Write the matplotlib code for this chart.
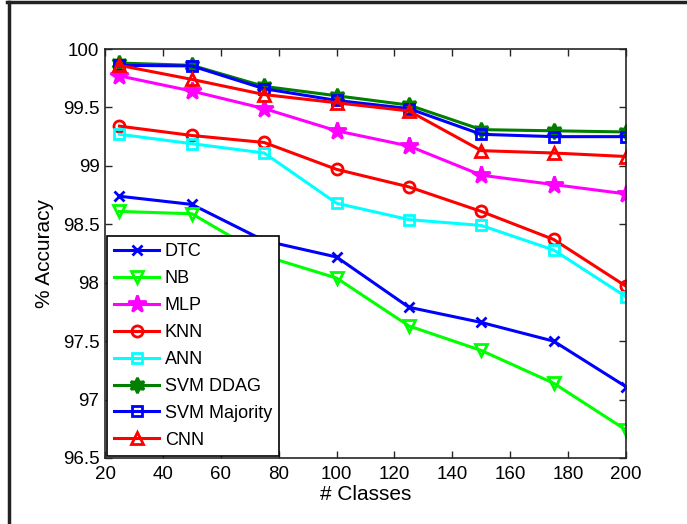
import numpy as np
import matplotlib
matplotlib.use("Agg")
import matplotlib.pyplot as plt
from matplotlib.lines import Line2D

plt.rcParams['font.family'] = ['Liberation Sans', 'DejaVu Sans']

classes = [25, 50, 75, 100, 125, 150, 175, 200]

dtc = [98.74, 98.67, 98.36, 98.22, 97.79, 97.66, 97.50, 97.11]
nb = [98.61, 98.59, 98.23, 98.04, 97.63, 97.42, 97.14, 96.74]
mlp = [99.77, 99.64, 99.49, 99.30, 99.17, 98.92, 98.84, 98.76]
knn = [99.34, 99.26, 99.20, 98.97, 98.82, 98.61, 98.37, 97.97]
ann = [99.27, 99.19, 99.11, 98.68, 98.54, 98.49, 98.28, 97.88]
svm_ddag = [99.88, 99.86, 99.68, 99.60, 99.52, 99.31, 99.30, 99.29]
svm_major = [99.86, 99.855, 99.66, 99.56, 99.49, 99.27, 99.25, 99.25]
cnn = [99.86, 99.74, 99.61, 99.54, 99.47, 99.13, 99.11, 99.08]

series = [
    ("DTC", dtc, "#0000ff", "x", True),
    ("NB", nb, "#00ff00", "v", False),
    ("MLP", mlp, "#ff00ff", "*", True),
    ("KNN", knn, "#ff0000", "o", False),
    ("ANN", ann, "#00ffff", "s", False),
    ("SVM DDAG", svm_ddag, "#007f00", (6, 1, 0), True),
    ("SVM Majority", svm_major, "#0000ff", "s", False),
    ("CNN", cnn, "#ff0000", "^", False),
]

# marker sizes roughly as MATLAB draws them
msize = {"x": 7, "v": 9, "*": 13, "o": 8, "s": 7, "^": 9}

fig = plt.figure(figsize=(6.87, 5.24), dpi=100)
ax = fig.add_axes([105/687, 1 - 458/524, 521/687, 409/524])

for name, vals, col, mk, filled in series:
    size = msize.get(mk, 11) if isinstance(mk, str) else 11
    ax.plot(classes, vals, color=col, marker=mk, lw=2.2, ms=size, mew=2,
            mfc=col if filled else "none", mec=col, label=name)

ax.set_xlim(20, 200)
ax.set_ylim(96.5, 100)
ax.set_xticks(np.arange(20, 201, 20))
ax.set_yticks(np.arange(96.5, 100.01, 0.5))
ax.set_yticklabels(["%g" % v for v in np.arange(96.5, 100.01, 0.5)])
ax.tick_params(direction="in", top=True, right=True, length=5, width=1,
               labelsize=13.5, color="#262626")
ax.tick_params(axis="x", pad=6)
ax.tick_params(axis="y", pad=4)
for s in ax.spines.values():
    s.set_color("#262626")
    s.set_linewidth(1.2)

ax.set_xlabel("# Classes", fontsize=15, labelpad=1)
ax.set_ylabel("% Accuracy", fontsize=15, labelpad=6)

leg = ax.legend(loc="lower left", bbox_to_anchor=(0.004, 0.005), fontsize=13,
                frameon=True, fancybox=False, framealpha=1, edgecolor="black",
                handlelength=2.5, handletextpad=0.3, labelspacing=0.55,
                borderpad=0.4, borderaxespad=0)
leg.get_frame().set_linewidth(1.2)

# figure border (top and left)
fig.add_artist(Line2D([7/687, 1], [1 - 2/524, 1 - 2/524], color="#222222", lw=2.5))
fig.add_artist(Line2D([9/687, 9/687], [0, 1 - 2/524], color="#222222", lw=2.5))

fig.savefig("out.png", dpi=100)
